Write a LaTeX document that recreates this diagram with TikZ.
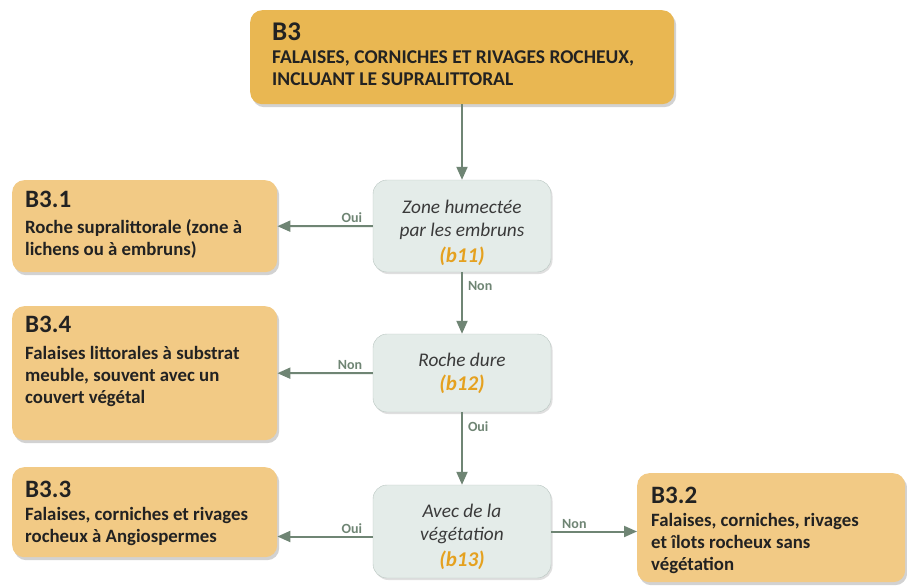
\documentclass[tikz,border=0pt]{standalone}
\usepackage{fontspec}
\setmainfont{Carlito}
\usetikzlibrary{shadows,arrows.meta}
\definecolor{toporange}{HTML}{E9B752}
\definecolor{leaforange}{HTML}{F2CA85}
\definecolor{testfill}{HTML}{E4ECE9}
\definecolor{testdraw}{HTML}{B9C6C1}
\definecolor{flowgreen}{HTML}{6F8574}
\definecolor{codeorange}{HTML}{E5A11F}
\definecolor{textdark}{HTML}{222222}
\definecolor{textgrey}{HTML}{3A3A3A}
\newcommand{\headfont}{\fontsize{27}{30}\selectfont\bfseries}
\newcommand{\topfont}{\fontsize{19.5}{22}\selectfont\bfseries}
\newcommand{\leafhead}{\fontsize{25}{26}\selectfont\bfseries}
\newcommand{\leaffont}{\fontsize{18.8}{22}\selectfont\bfseries}
\newcommand{\testfont}{\fontsize{19.3}{23}\selectfont\itshape}
\newcommand{\answerfont}{\fontsize{14}{16}\selectfont\bfseries}
\tikzset{
  leafbox/.style={fill=leaforange, rounded corners=12pt, anchor=north west,
    inner sep=0pt, drop shadow={shadow xshift=2pt, shadow yshift=-3pt, opacity=0.35}},
  leaftext/.style={anchor=north west, align=left, text=textdark, inner sep=0pt, font=\leaffont},
  testbox/.style={draw=testdraw, fill=testfill, rounded corners=14pt, align=center,
    text=textgrey, font=\testfont, minimum width=178pt,
    drop shadow={shadow xshift=1.5pt, shadow yshift=-2pt, opacity=0.25}},
  flow/.style={draw=flowgreen, line width=2pt, -{Triangle[length=13pt,width=11pt]}},
  answer/.style={font=\answerfont, text=flowgreen, inner sep=2pt}
}
\newcommand{\code}[1]{{\fontsize{21}{23}\selectfont\bfseries\color{codeorange}(#1)}}
\newcommand{\lowstrut}[1]{\rule{0pt}{#1pt}}
\begin{document}
\begin{tikzpicture}[x=1pt,y=-1pt]
\useasboundingbox[fill=white] (0,0) rectangle (907,586);
% boites
\node[leafbox, fill=toporange, minimum width=424pt, minimum height=94pt] (b3) at (250,10) {};
\node[leaftext, font=\topfont] at ([shift={(22,13)}]b3.north west)
  {{\headfont B3}\\[1pt]
   FALAISES, CORNICHES ET RIVAGES ROCHEUX,\\
   INCLUANT LE SUPRALITTORAL};
\node[leafbox, minimum width=265pt, minimum height=92pt] (b31) at (12,180) {};
\node[leaftext] at ([shift={(13,11)}]b31.north west)
  {{\leafhead B3.1}\\[4pt]
   Roche supralittorale (zone à\\
   lichens ou à embruns)};
\node[leafbox, minimum width=265pt, minimum height=134pt] (b34) at (12,306) {};
\node[leaftext] at ([shift={(13,10)}]b34.north west)
  {{\leafhead B3.4}\\[5pt]
   Falaises littorales à substrat\\
   meuble, souvent avec un\\
   couvert végétal};
\node[leafbox, minimum width=265pt, minimum height=90pt] (b33) at (12,467) {};
\node[leaftext] at ([shift={(13,14)}]b33.north west)
  {{\leafhead B3.3}\\[1pt]
   Falaises, corniches et rivages\\
   rocheux à Angiospermes};
\node[leafbox, minimum width=268pt, minimum height=109pt] (b32) at (637,473) {};
\node[leaftext] at ([shift={(14,14)}]b32.north west)
  {{\leafhead B3.2}\\[1pt]
   Falaises, corniches, rivages\\
   et îlots rocheux sans\\
   végétation};
% questions
\node[testbox, minimum height=92pt] (q1) at (462,226)
  {\lowstrut{27}Zone humectée\\ par les embruns\\[3pt] \code{b11}};
\node[testbox, minimum height=78pt] (q2) at (462,373)
  {Roche dure\\[1pt] \code{b12}};
\node[testbox, minimum height=93pt] (q3) at (462,531.5)
  {\lowstrut{25}Avec de la\\ végétation\\[3pt] \code{b13}};
% fleches
\draw[flow] (b3.south -| q1) -- (q1.north);
\draw[flow] (q1.west) -- (b31.east) node[answer, pos=0.22, above] {Oui};
\draw[flow] (q1.south) -- (q2.north) node[answer, pos=0.23, right=3pt] {Non};
\draw[flow] (q2.west) -- (b34.east) node[answer, pos=0.24, above] {Non};
\draw[flow] (q2.south) -- (q3.north) node[answer, pos=0.2, right=3pt] {Oui};
\draw[flow] ([yshift=-5pt]q3.west) -- ([yshift=-5pt]q3.west -| b33.east) node[answer, pos=0.22, above] {Oui};
\draw[flow] (q3.east) -- (q3.east -| b32.west) node[answer, pos=0.27, above] {Non};
\end{tikzpicture}
\end{document}
